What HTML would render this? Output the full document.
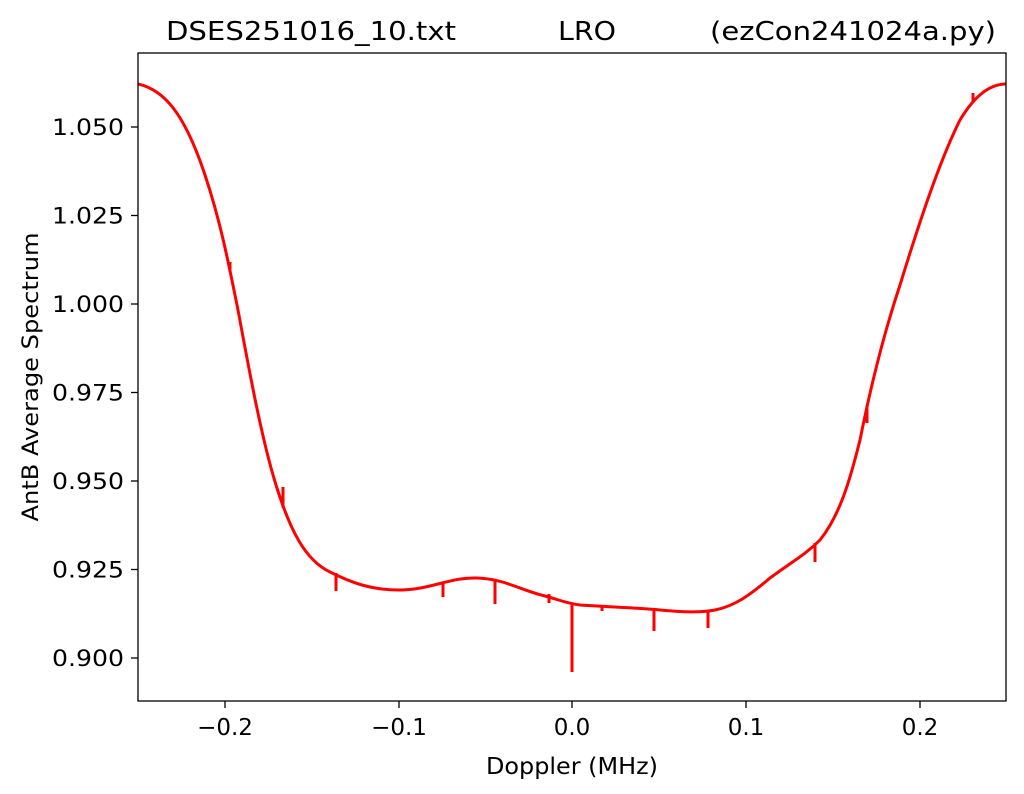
<!DOCTYPE html>
<html><head><meta charset="utf-8"><style>
html,body{margin:0;padding:0;background:#fff;}
svg{display:block;font-family:"DejaVu Sans","Liberation Sans",sans-serif;}
</style></head><body>
<svg width="1024" height="794" viewBox="0 0 1024 794">
<rect width="1024" height="794" fill="#fff"/>
<text x="166" y="40" font-size="26" textLength="290" lengthAdjust="spacingAndGlyphs">DSES251016_10.txt</text>
<text x="558" y="40" font-size="26" textLength="58" lengthAdjust="spacingAndGlyphs">LRO</text>
<text x="710" y="40" font-size="26" textLength="286" lengthAdjust="spacingAndGlyphs">(ezCon241024a.py)</text>
<defs><clipPath id="c"><rect x="138" y="53" width="868" height="648"/></clipPath></defs>
<g clip-path="url(#c)" fill="none" stroke="#ff0000" stroke-width="3" stroke-linejoin="round">
<path d="M138,84 C165,90 185,115 205,175 C220,220 228,260 238,310 C250,375 262,440 276,485 C290,530 305,560 330,572 C350,582 370,590 399,590 C430,590 450,577 477,578 C505,579 520,590 545,596 C560,600 565,603 580,605 C610,607 640,608 660,610 C680,612 700,613 715,610 C735,606 750,595 770,578 C790,563 805,555 820,540 C840,515 850,480 860,440 C872,380 885,330 900,285 C920,220 940,160 960,120 C975,95 990,84 1006,84"/>
</g>
<g stroke="#ff0000" stroke-width="3" clip-path="url(#c)">
<line x1="230" y1="262" x2="230" y2="272"/>
<line x1="283" y1="487" x2="283" y2="508"/>
<line x1="336" y1="573" x2="336" y2="591"/>
<line x1="443" y1="584" x2="443" y2="597"/>
<line x1="495" y1="580" x2="495" y2="604"/>
<line x1="549" y1="594" x2="549" y2="603"/>
<line x1="572" y1="603" x2="572" y2="672"/>
<line x1="602" y1="605" x2="602" y2="611"/>
<line x1="654" y1="609" x2="654" y2="631"/>
<line x1="708" y1="611" x2="708" y2="628"/>
<line x1="815" y1="543" x2="815" y2="562"/>
<line x1="867" y1="405" x2="867" y2="423"/>
<line x1="973" y1="93" x2="973" y2="101"/>
</g>
<rect x="138" y="53" width="868" height="648" fill="none" stroke="#000" stroke-width="1.3"/>
<g stroke="#000" stroke-width="1.3">
<line x1="225" y1="701" x2="225" y2="708"/>
<line x1="399" y1="701" x2="399" y2="708"/>
<line x1="572" y1="701" x2="572" y2="708"/>
<line x1="746" y1="701" x2="746" y2="708"/>
<line x1="920" y1="701" x2="920" y2="708"/>
<line x1="131" y1="127" x2="138" y2="127"/>
<line x1="131" y1="215.5" x2="138" y2="215.5"/>
<line x1="131" y1="304" x2="138" y2="304"/>
<line x1="131" y1="392.5" x2="138" y2="392.5"/>
<line x1="131" y1="481" x2="138" y2="481"/>
<line x1="131" y1="569.5" x2="138" y2="569.5"/>
<line x1="131" y1="658" x2="138" y2="658"/>
</g>
<g font-size="23" text-anchor="middle">
<text x="225" y="735">−0.2</text>
<text x="399" y="735">−0.1</text>
<text x="572" y="735">0.0</text>
<text x="746" y="735">0.1</text>
<text x="920" y="735">0.2</text>
<text x="572" y="774" textLength="172" lengthAdjust="spacingAndGlyphs">Doppler (MHz)</text>
</g>
<g font-size="22" text-anchor="end">
<text x="124" y="135" textLength="72" lengthAdjust="spacingAndGlyphs">1.050</text>
<text x="124" y="223.5" textLength="72" lengthAdjust="spacingAndGlyphs">1.025</text>
<text x="124" y="312" textLength="72" lengthAdjust="spacingAndGlyphs">1.000</text>
<text x="124" y="400.5" textLength="72" lengthAdjust="spacingAndGlyphs">0.975</text>
<text x="124" y="489" textLength="72" lengthAdjust="spacingAndGlyphs">0.950</text>
<text x="124" y="577.5" textLength="72" lengthAdjust="spacingAndGlyphs">0.925</text>
<text x="124" y="666" textLength="72" lengthAdjust="spacingAndGlyphs">0.900</text>
</g>
<text font-size="22" text-anchor="middle" textLength="289" lengthAdjust="spacingAndGlyphs" transform="translate(38,377) rotate(-90)">AntB Average Spectrum</text>
</svg>
</body></html>
